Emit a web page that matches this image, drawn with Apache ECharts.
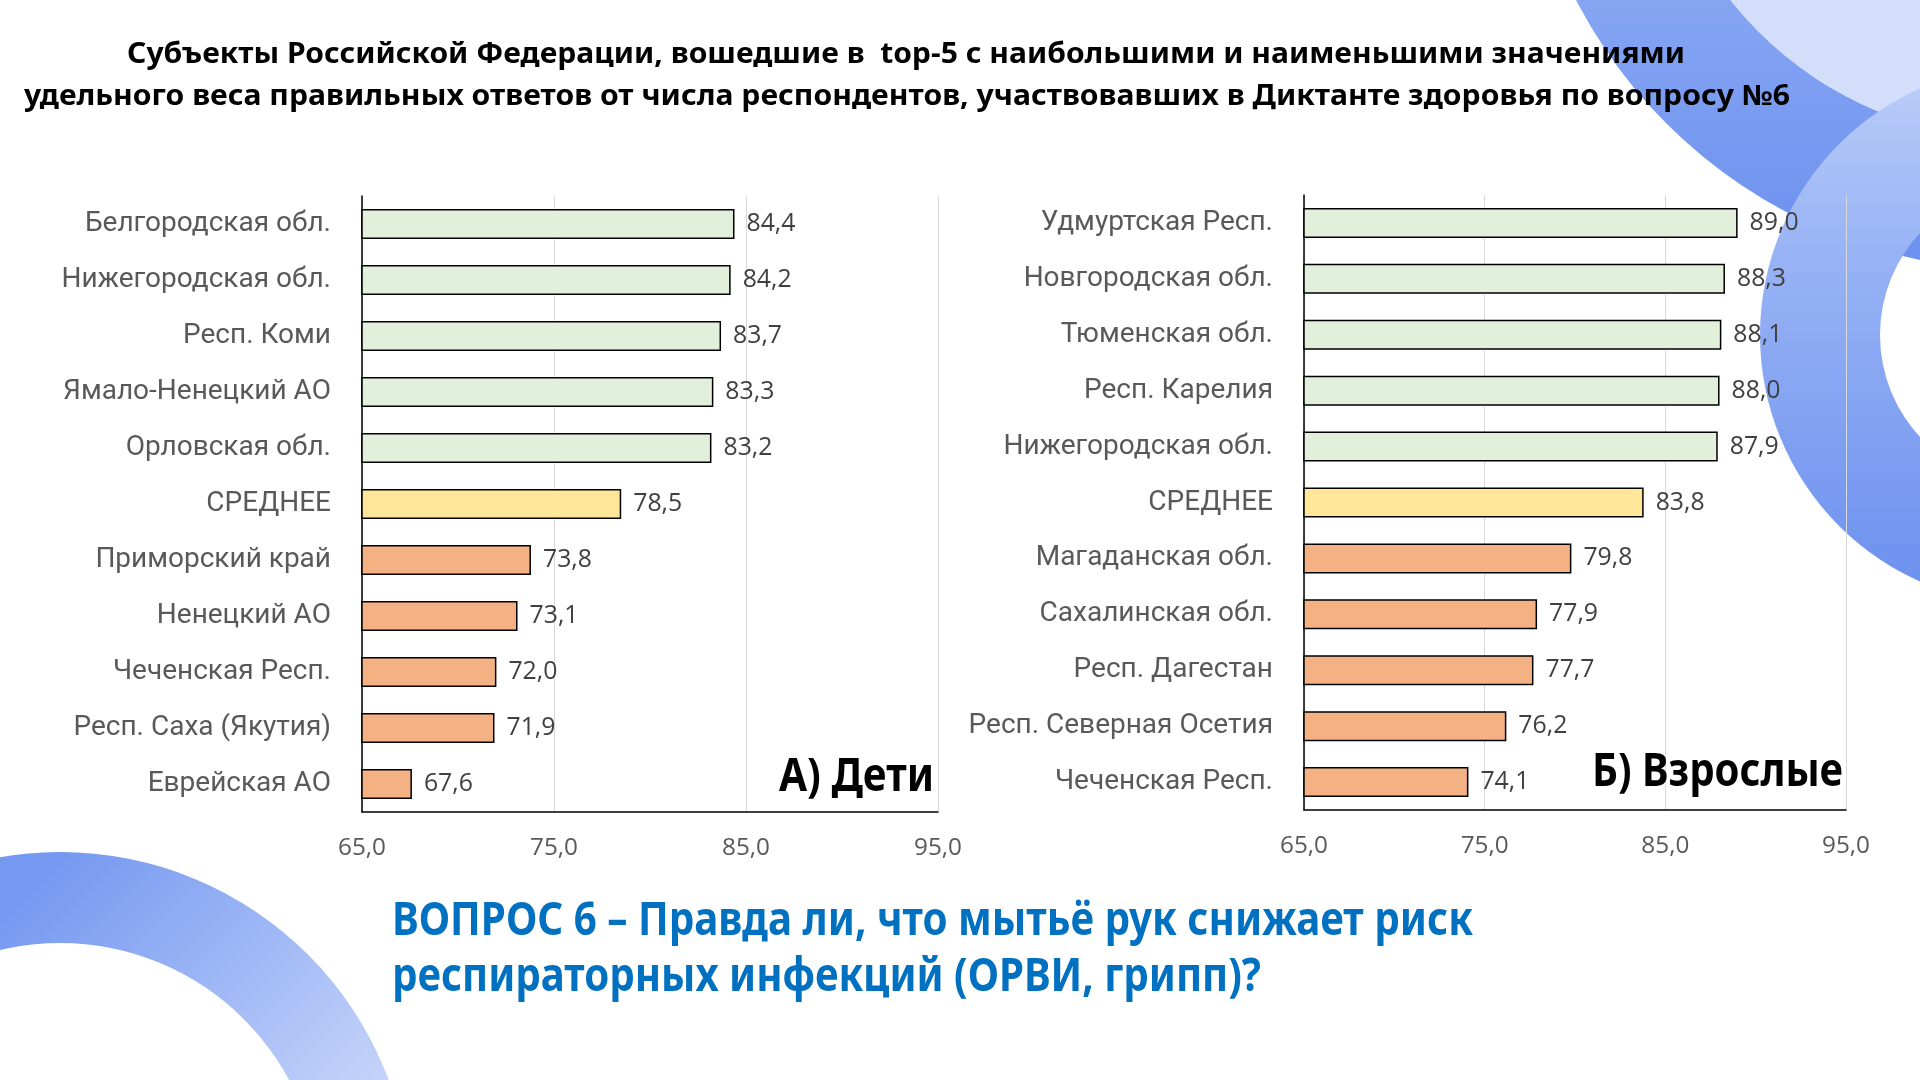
<!DOCTYPE html>
<html>
<head>
<meta charset="utf-8">
<script src="https://cdn.jsdelivr.net/npm/echarts@6/dist/echarts.min.js"></script>
<style>
html,body{margin:0;padding:0;background:#fff;}
#chart{width:1920px;height:1080px;}
</style>
</head>
<body>
<div id="chart"></div>
<script>
// ---------- DATA ----------
const childCategories = ["Белгородская обл.","Нижегородская обл.","Респ. Коми","Ямало-Ненецкий АО","Орловская обл.","СРЕДНЕЕ","Приморский край","Ненецкий АО","Чеченская Респ.","Респ. Саха (Якутия)","Еврейская АО"];
const childValues = [84.4,84.2,83.7,83.3,83.2,78.5,73.8,73.1,72.0,71.9,67.6];
const adultCategories = ["Удмуртская Респ.","Новгородская обл.","Тюменская обл.","Респ. Карелия","Нижегородская обл.","СРЕДНЕЕ","Магаданская обл.","Сахалинская обл.","Респ. Дагестан","Респ. Северная Осетия","Чеченская Респ."];
const adultValues = [89.0,88.3,88.1,88.0,87.9,83.8,79.8,77.9,77.7,76.2,74.1];
const rowGroups = ["top","top","top","top","top","avg","low","low","low","low","low"];
const xTicks = [65,75,85,95];
const titleLines = ["Субъекты Российской Федерации, вошедшие в  top-5 с наибольшими и наименьшими значениями",
                    "удельного веса правильных ответов от числа респондентов, участвовавших в Диктанте здоровья по вопросу №6"];
const panelTitles = ["А) Дети","Б) Взрослые"];
const questionLines = ["ВОПРОС 6 – Правда ли, что мытьё рук снижает риск","респираторных инфекций (ОРВИ, грипп)?"];

// ---------- STYLE ----------
const groupColors = {top:'#E2EFDA', avg:'#FFE699', low:'#F4B183'};
const cv = document.createElement('canvas').getContext('2d');
function measure(text, font){ cv.font = font; return cv.measureText(text).width; }
function fitSize(text, weight, family, target){ return 100*target/measure(text, weight+' 100px '+family); }
const catFamily = 'Roboto';
const catSize = Math.min(28, fitSize('Респ. Северная Осетия','normal',catFamily,306));
const valFamily = 'Open Sans';
const valSize = fitSize('84,4','normal',valFamily,49);
const tickSize = fitSize('85,0','normal',valFamily,48);
const fmt = v => Number(v).toFixed(1).replace('.',',');

function scaledText(text, family, size, color, x, y, align, targetW, z){
  const w = measure(text, 'bold '+size+'px '+family);
  const s = targetW / w;
  return {type:'text', x:x, y:y, z:z||10, scaleX:s, scaleY:1,
    style:{text:text, fontFamily:family, fontWeight:'bold', fontSize:size, fill:color,
           textAlign:align, textVerticalAlign:'middle'}};
}

const chart = echarts.init(document.getElementById('chart'), null, {renderer:'canvas'});

function makeX(gi){
  return {gridIndex:gi, type:'value', min:xTicks[0], max:xTicks[xTicks.length-1], interval:xTicks[1]-xTicks[0],
    axisLine:{show:true, lineStyle:{color:'#000', width:1.5}}, axisTick:{show:false},
    splitLine:{show:true, lineStyle:{color:'#D9D9D9', width:1}},
    axisLabel:{formatter:fmt, color:'#595959', fontSize:tickSize, fontFamily:valFamily, margin:24}};
}
function makeY(gi, cats){
  return {gridIndex:gi, type:'category', inverse:true, data:cats,
    axisLine:{show:true, lineStyle:{color:'#000', width:1.5}}, axisTick:{show:false},
    splitLine:{show:false},
    axisLabel:{color:'#595959', fontSize:catSize, fontFamily:catFamily, margin:31}};
}
function makeSeries(gi, vals){
  return {type:'bar', xAxisIndex:gi, yAxisIndex:gi, barWidth:30,
    data: vals.map((v,i)=>({value:v, itemStyle:{color:groupColors[rowGroups[i]]}})),
    itemStyle:{borderColor:'#000', borderWidth:1.5},
    label:{show:true, position:'right', distance:12, formatter:p=>fmt(p.value),
           color:'#404040', fontSize:valSize, fontFamily:valFamily},
    silent:true, animation:false};
}

const graphics = [
  // decorative shapes
  {type:'circle', z:-20, shape:{cx:1890, cy:-50, r:180}, style:{fill:'#D3DEFA'}},
  {type:'ring', z:-15, shape:{cx:2020, cy:-230, r:500, r0:370},
    style:{fill:{type:'linear', x:0, y:0, x2:0, y2:1, colorStops:[{offset:0.7,color:'#88A7F3'},{offset:1,color:'#6B90EE'}]}}},
  {type:'ring', z:-12, shape:{cx:2030, cy:335, r:270, r0:150},
    style:{fill:{type:'linear', x:0, y:0, x2:0, y2:1, colorStops:[{offset:0,color:'#BCCEF8'},{offset:0.35,color:'#98B3F5'},{offset:1,color:'#6A8FEE'}]}}},
  {type:'ring', z:-15, shape:{cx:60, cy:1203, r:351, r0:260},
    style:{fill:{type:'linear', x:0, y:0, x2:1, y2:1, colorStops:[{offset:0.25,color:'#7598F0'},{offset:0.75,color:'#DAE3FC'}]}}},
  // texts
  scaledText(titleLines[0], 'Noto Sans', 28, '#000', 127, 55, 'left', 1558),
  scaledText(titleLines[1], 'Noto Sans', 28, '#000', 24, 97, 'left', 1766),
  scaledText(panelTitles[0], 'Noto Sans', 46, '#000', 934, 778, 'right', 155),
  scaledText(panelTitles[1], 'Noto Sans', 46, '#000', 1843, 773, 'right', 251),
  scaledText(questionLines[0], 'Noto Sans', 46, '#0070C0', 392, 922, 'left', 1081),
  scaledText(questionLines[1], 'Noto Sans', 46, '#0070C0', 392, 978, 'left', 869)
];

chart.setOption({
  backgroundColor:'#ffffff',
  animation:false,
  grid:[{left:362, top:196, width:576, height:616, containLabel:false},
        {left:1304, top:195, width:542, height:615, containLabel:false}],
  xAxis:[makeX(0), makeX(1)],
  yAxis:[makeY(0, childCategories), makeY(1, adultCategories)],
  series:[makeSeries(0, childValues), makeSeries(1, adultValues)],
  graphic: graphics
});
</script>
</body>
</html>
